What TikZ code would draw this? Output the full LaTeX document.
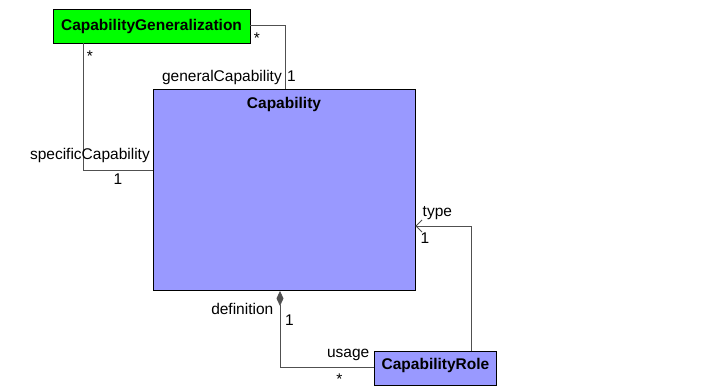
\documentclass[tikz,border=0pt]{standalone}
\usepackage{fontspec}
\setmainfont{Liberation Sans}
\usetikzlibrary{arrows.meta}
\definecolor{capblue}{RGB}{153,153,255}
\definecolor{capgreen}{RGB}{0,255,0}
\definecolor{conn}{RGB}{80,80,80}
\tikzset{
  cls/.style={draw=black, line width=0.9pt, inner sep=0pt},
  clstitle/.style={inner sep=0pt, font=\fontsize{15.5}{18}\selectfont\bfseries},
  conline/.style={draw=conn, line width=0.9pt},
  lbl/.style={inner sep=0pt, font=\fontsize{15.5}{18}\selectfont},
}
\begin{document}
\begin{tikzpicture}[x=1pt,y=-1pt]
\useasboundingbox (0,0) rectangle (715,387);
% classes
\node[cls, fill=capgreen, minimum width=197pt, minimum height=34pt] (cg) at (151.5,26) {};
\node[clstitle, anchor=base] (cgt) at (151.5,30.5) {CapabilityGeneralization};
\node[cls, fill=capblue, minimum width=262pt, minimum height=201pt] (cap) at (284,190) {};
\node[clstitle, anchor=base] (capt) at (284,108.3) {Capability};
\node[cls, fill=capblue, minimum width=122pt, minimum height=34pt] (role) at (435,368) {};
\node[clstitle, anchor=base] (rolet) at (435.5,370) {CapabilityRole};
% connectors
\coordinate (cgE) at (cg.east |- 0,25);
\coordinate (capN) at (cap.north -| 285,0);
\draw[conline] (cgE) -| (capN);
\coordinate (cgS) at (cg.south -| 83,0);
\coordinate (capW) at (cap.west |- 0,170);
\draw[conline] (cgS) |- (capW);
\coordinate (capS) at (cap.south -| 280,0);
\coordinate (roleW) at (role.west |- 0,367);
\draw[conline, {Diamond[length=15pt,width=7pt,fill=conn]}-] (capS) |- (roleW);
\coordinate (roleN) at (role.north -| 471.5,0);
\coordinate (capE) at (cap.east |- 0,226);
\draw[conline, -{Straight Barb[length=6pt,width=12pt]}] (roleN) |- (capE);
% labels
\node[lbl, anchor=base] (l1) at (257,43.5) {*};
\node[lbl, anchor=base east] (l2) at (282,82) {generalCapability};
\node[lbl, anchor=base west] (l3) at (287,82) {1};
\node[lbl, anchor=base] (l4) at (90,61.5) {*};
\node[lbl, anchor=base east] (l5) at (150,160) {specificCapability};
\node[lbl, anchor=base] (l6) at (118,185) {1};
\node[lbl, anchor=base west] (l7) at (422.5,217) {type};
\node[lbl, anchor=base west] (l8) at (420.5,244) {1};
\node[lbl, anchor=base east] (l9) at (273.5,315) {definition};
\node[lbl, anchor=base west] (l10) at (285,326) {1};
\node[lbl, anchor=base east] (l11) at (369.5,357) {usage};
\node[lbl, anchor=base] (l12) at (339.5,384.5) {*};
\end{tikzpicture}
\end{document}
